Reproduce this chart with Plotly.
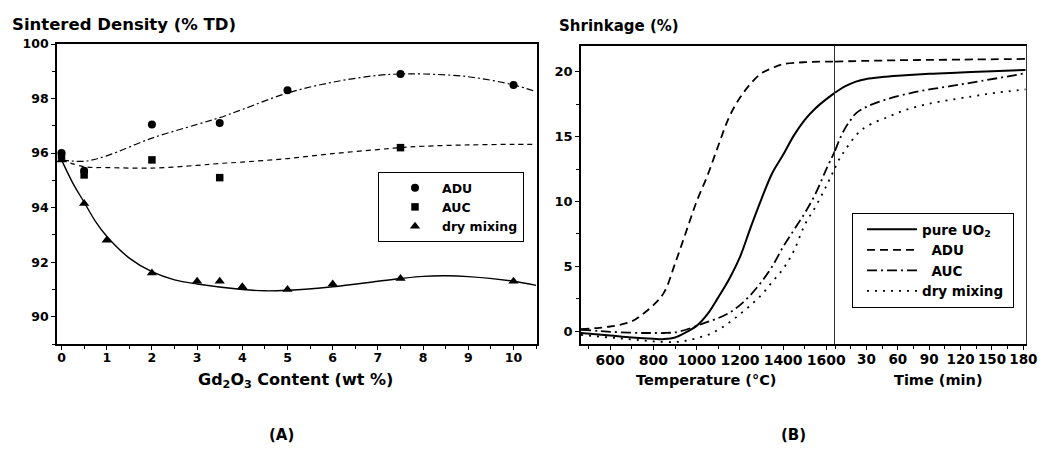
import plotly.graph_objects as go

# Browser body has an 8px margin; figure is sized to fit inside it.
OFF = 8
W, H = 1056 - 2 * OFF, 451 - 2 * OFF

# ---------------- Panel A data ----------------
gd_adu = [0, 0.5, 2, 3.5, 5, 7.5, 10]
dens_adu = [96.0, 95.35, 97.05, 97.1, 98.3, 98.9, 98.5]
gd_auc = [0, 0.5, 2, 3.5, 7.5]
dens_auc = [95.9, 95.2, 95.75, 95.1, 96.2]
gd_dry = [0, 0.5, 1, 2, 3, 3.5, 4, 5, 6, 7.5, 10]
dens_dry = [95.75, 94.15, 92.8, 91.6, 91.3, 91.3, 91.1, 91.0, 91.2, 91.4, 91.3]

fit_adu_x = [0, 0.5, 1, 2, 3, 3.5, 4, 5, 6, 7, 7.5, 8, 9, 10, 10.5]
fit_adu_y = [95.75, 95.7, 95.9, 96.55, 97.05, 97.3, 97.6, 98.2, 98.6, 98.85, 98.9, 98.9, 98.8, 98.5, 98.25]
fit_auc_x = [0, 0.5, 1, 2, 3, 3.5, 4, 5, 6, 7, 7.5, 8, 9, 10, 10.5]
fit_auc_y = [95.75, 95.5, 95.47, 95.45, 95.55, 95.62, 95.67, 95.8, 95.98, 96.13, 96.2, 96.25, 96.3, 96.32, 96.32]
fit_dry_x = [0, 0.25, 0.5, 0.75, 1, 1.5, 2, 2.5, 3, 4, 4.5, 5, 6, 7, 7.5, 8, 8.5, 9, 10, 10.5]
fit_dry_y = [95.75, 94.9, 94.2, 93.5, 92.95, 92.15, 91.65, 91.35, 91.2, 91.0, 90.95, 90.97, 91.1, 91.3, 91.4, 91.48, 91.5, 91.47, 91.3, 91.15]

# ---------------- Panel B data ----------------
temp_pure = [465, 600, 700, 800, 850, 900, 950, 1000, 1050, 1100, 1150, 1200, 1250, 1300, 1350, 1400, 1450, 1500, 1550, 1600, 1640]
shr_pure_t = [-0.15, -0.35, -0.5, -0.6, -0.62, -0.5, -0.1, 0.4, 1.3, 2.6, 4.0, 5.7, 8.0, 10.2, 12.2, 13.6, 15.1, 16.3, 17.2, 17.9, 18.4]
time_pure = [0, 10, 20, 30, 45, 60, 90, 120, 150, 182]
shr_pure_m = [18.4, 18.9, 19.25, 19.45, 19.6, 19.7, 19.85, 19.95, 20.05, 20.15]

temp_adu = [465, 550, 600, 650, 700, 750, 800, 850, 900, 950, 1000, 1050, 1100, 1150, 1200, 1250, 1300, 1350, 1400, 1500, 1640]
shr_adu_t = [0.15, 0.25, 0.35, 0.5, 0.75, 1.3, 2.0, 3.0, 5.2, 7.6, 10.0, 12.0, 14.3, 16.5, 18.0, 19.1, 19.9, 20.3, 20.6, 20.75, 20.8]
time_adu = [0, 60, 120, 182]
shr_adu_m = [20.8, 20.9, 20.95, 21.0]

temp_auc = [465, 550, 650, 750, 800, 850, 900, 950, 1000, 1050, 1100, 1150, 1200, 1250, 1300, 1350, 1400, 1450, 1500, 1550, 1600, 1640]
shr_auc_t = [0.1, 0.0, -0.1, -0.15, -0.15, -0.15, -0.1, 0.1, 0.4, 0.7, 1.0, 1.4, 2.0, 2.8, 3.8, 5.0, 6.5, 7.8, 9.1, 10.6, 12.5, 13.9]
time_auc = [0, 5, 10, 15, 20, 30, 50, 80, 110, 140, 182]
shr_auc_m = [13.9, 14.9, 15.7, 16.3, 16.8, 17.3, 17.9, 18.5, 18.9, 19.3, 19.9]

temp_dry = [465, 600, 700, 800, 900, 950, 1000, 1050, 1100, 1150, 1200, 1250, 1300, 1350, 1400, 1450, 1500, 1550, 1600, 1640]
shr_dry_t = [-0.3, -0.5, -0.65, -0.8, -0.85, -0.75, -0.55, -0.3, 0.1, 0.65, 1.3, 2.0, 2.8, 3.8, 4.8, 6.2, 8.2, 9.6, 11.2, 12.6]
time_dry = [0, 5, 10, 17, 25, 35, 50, 65, 82, 100, 130, 155, 182]
shr_dry_m = [12.6, 13.4, 14.0, 14.8, 15.5, 16.0, 16.5, 17.0, 17.4, 17.7, 18.1, 18.4, 18.65]

temp_ticks = [600, 800, 1000, 1200, 1400, 1600]
time_ticks = [30, 60, 90, 120, 150, 180]

FONT = "DejaVu Sans"
NB = "\u00a0"


def px(x):
    return (x - OFF) / W


def py(y):
    return 1 - (y - OFF) / H


fig = go.Figure()

# Panel A fits
fig.add_trace(go.Scatter(x=fit_adu_x, y=fit_adu_y, mode="lines", line=dict(color="black", width=1.2, dash="7px,3px,2px,3px", shape="spline"),
                         showlegend=False, xaxis="x", yaxis="y"))
fig.add_trace(go.Scatter(x=fit_auc_x, y=fit_auc_y, mode="lines", line=dict(color="black", width=1.2, dash="5px,4px", shape="spline"),
                         showlegend=False, xaxis="x", yaxis="y"))
fig.add_trace(go.Scatter(x=fit_dry_x, y=fit_dry_y, mode="lines", line=dict(color="black", width=1.4, shape="spline"),
                         showlegend=False, xaxis="x", yaxis="y"))
# Panel A markers
fig.add_trace(go.Scatter(x=gd_adu, y=dens_adu, mode="markers", name="ADU", marker=dict(symbol="circle", size=8, color="black"),
                         xaxis="x", yaxis="y", legend="legend"))
fig.add_trace(go.Scatter(x=gd_auc, y=dens_auc, mode="markers", name="AUC", marker=dict(symbol="square", size=7.5, color="black"),
                         xaxis="x", yaxis="y", legend="legend"))
fig.add_trace(go.Scatter(x=gd_dry, y=dens_dry, mode="markers", name="dry mixing", marker=dict(symbol="triangle-up", size=9, color="black"),
                         xaxis="x", yaxis="y", legend="legend"))

# Panel B
styles = [
    ("pure UO<sub>2</sub>", temp_pure, shr_pure_t, time_pure, shr_pure_m, "solid", 2.0),
    (NB * 2 + "ADU", temp_adu, shr_adu_t, time_adu, shr_adu_m, "8px,5px", 1.8),
    (NB * 2 + "AUC", temp_auc, shr_auc_t, time_auc, shr_auc_m, "10px,4px,2px,4px", 1.8),
    ("dry mixing" + NB, temp_dry, shr_dry_t, time_dry, shr_dry_m, "2px,6px", 1.8),
]
for name, tx, ty, mx, my, dash, lw in styles:
    fig.add_trace(go.Scatter(x=tx, y=ty, mode="lines", name=name, line=dict(color="black", width=lw, dash=dash, shape="spline"),
                             xaxis="x2", yaxis="y2", legend="legend2"))
    fig.add_trace(go.Scatter(x=mx, y=my, mode="lines", name=name, line=dict(color="black", width=lw, dash=dash, shape="spline"),
                             xaxis="x3", yaxis="y3", showlegend=False))


def tf(size):
    return dict(family=FONT, size=size, color="black", weight="bold")


axis_common = dict(showgrid=False, zeroline=False, showline=True, linecolor="black", ticks="outside",
                   tickcolor="black", automargin=False)

A_L, A_R, A_T, A_B = 57, 537, 44, 344
B_L, B_M, B_R, B_T, B_B = 581, 835, 1026, 46, 344

fig.update_layout(
    width=W, height=H,
    margin=dict(l=0, r=0, t=0, b=0),
    paper_bgcolor="white", plot_bgcolor="white",
    font=dict(family=FONT, color="black"),
    xaxis=dict(**axis_common, domain=[px(A_L), px(A_R)], range=[-0.1, 10.52], anchor="y",
               tickmode="linear", tick0=0, dtick=1, ticklen=4, linewidth=1.5, mirror=True,
               tickfont=tf(12.5), ticklabelstandoff=-3, tickangle=0,
               minor=dict(ticks="outside", dtick=0.5, ticklen=3, tickcolor="black")),
    yaxis=dict(**axis_common, domain=[py(A_B), py(A_T)], range=[89, 100], anchor="x",
               tickmode="linear", tick0=90, dtick=2, ticklen=4, linewidth=1.8, mirror=True,
               tickfont=tf(12.5),
               minor=dict(ticks="outside", dtick=1, ticklen=3, tickcolor="black")),
    xaxis2=dict(**axis_common, domain=[px(B_L), px(B_M)], range=[465, 1640], anchor="y2",
                tickmode="array", tickvals=temp_ticks, ticklen=4, linewidth=1.5, mirror=True,
                tickfont=tf(14), ticklabelstandoff=-2, tickangle=0,
                minor=dict(ticks="outside", tickmode="linear", tick0=0, dtick=100, ticklen=3, tickcolor="black")),
    yaxis2=dict(**axis_common, domain=[py(B_B), py(B_T)], range=[-1, 22], anchor="x2",
                tickmode="linear", tick0=0, dtick=5, ticklen=4, linewidth=1.8,
                tickfont=tf(13),
                minor=dict(ticks="outside", dtick=2.5, ticklen=3, tickcolor="black")),
    xaxis3=dict(**axis_common, domain=[px(B_M), px(B_R)], range=[0, 182.5], anchor="y3",
                tickmode="array", tickvals=time_ticks, ticklen=4, linewidth=1.5, mirror=True,
                tickfont=tf(13.5), ticklabelstandoff=-2, tickangle=0,
                minor=dict(ticks="outside", tickmode="linear", tick0=0, dtick=15, ticklen=3, tickcolor="black")),
    yaxis3=dict(showgrid=False, zeroline=False, showline=True, linecolor="#333", linewidth=1, mirror=True,
                showticklabels=False, ticks="", domain=[py(B_B), py(B_T)], range=[-1, 22], anchor="x3", automargin=False),
    legend=dict(x=px(378), y=py(172), xanchor="left", yanchor="top", bordercolor="black", borderwidth=1,
                bgcolor="white", font=tf(12.5), itemwidth=44, indentation=9, tracegroupgap=0),
    legend2=dict(x=px(852), y=py(213), xanchor="left", yanchor="top", bordercolor="black", borderwidth=1,
                 bgcolor="white", font=tf(13.5), itemwidth=50, indentation=9, tracegroupgap=0),
)

ann = [
    ("<b>Sintered Density (% TD)</b>", 10, 24, "left", 16.5),
    ("<b>Shrinkage (%)</b>", 557, 26, "left", 15),
    ("<b>Gd<sub>2</sub>O<sub>3</sub> Content (wt %)</b>", 295, 380, "center", 16),
    ("<b>Temperature (°C)</b>", 706, 380, "center", 14.5),
    ("<b>Time (min)</b>", 938, 380, "center", 14.5),
    ("<b>(A)</b>", 281, 435, "center", 15),
    ("<b>(B)</b>", 793, 435, "center", 15),
]
for text, x, y, xa, size in ann:
    fig.add_annotation(text=text, x=px(x), y=py(y), xref="paper", yref="paper", xanchor=xa, yanchor="middle",
                       showarrow=False, font=dict(family=FONT, size=size, color="black"))

fig.write_html("out.html")
